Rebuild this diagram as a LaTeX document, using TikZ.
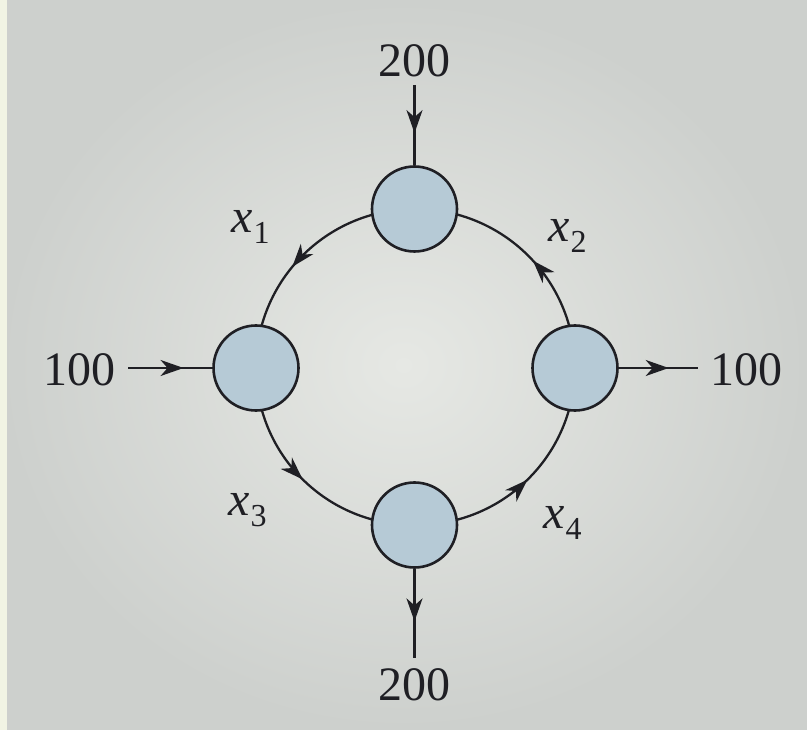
\documentclass[tikz,border=0pt]{standalone}
\usepackage{fontspec}
\setmainfont{Liberation Serif}
\usetikzlibrary{arrows.meta,decorations.markings}
\definecolor{pagegray}{HTML}{E6E8E4}
\definecolor{pageedge}{HTML}{CDD0CD}
\definecolor{stripgreen}{HTML}{F1F4E4}
\definecolor{nodefill}{HTML}{B6CAD6}
\definecolor{ink}{HTML}{1F1F24}
\pgfdeclarelayer{bg}
\pgfdeclarelayer{edges}
\pgfsetlayers{bg,edges,main}
\tikzset{
  junction/.style={circle, draw=ink, fill=nodefill, line width=2.6pt, minimum size=85pt, inner sep=0pt},
  flow/.style={draw=ink, line width=2.3pt},
  tipat/.style={postaction={decorate}, decoration={markings, mark=at position #1 with {\arrow{Stealth[length=23pt,width=16pt,inset=7pt]}}}},
  bigtext/.style={font=\fontsize{48}{56}\selectfont, text=ink, inner sep=0pt},
}
\newcommand{\xsub}[1]{\textit{x}\kern1pt\raisebox{-11pt}{\fontsize{32}{32}\selectfont #1}}
\begin{document}
\begin{tikzpicture}[x=1pt,y=1pt]
\useasboundingbox (0,0) rectangle (807,-730);
\begin{pgfonlayer}{bg}
  \shade[inner color=pagegray, outer color=pageedge] (0,0) rectangle (807,-730);
  \fill[stripgreen] (0,0) rectangle (7,-730);
\end{pgfonlayer}
% junction nodes
\node[junction] (top) at (414.5,-209) {};
\node[junction] (left) at (256,-368) {};
\node[junction] (right) at (575,-368) {};
\node[junction] (bot) at (414.5,-525) {};
% free ends
\coordinate (topin) at (414.5,-85);
\coordinate (leftin) at (128,-368);
\coordinate (rightout) at (698,-368);
\coordinate (botout) at (414.5,-658);
% straight flows
\draw[flow, tipat=0.60] (topin) -- (top);
\draw[flow, tipat=0.66] (leftin) -- (left);
\draw[flow, tipat=0.63] (right) -- (rightout);
\draw[flow, tipat=0.59] (bot) -- (botout);
% arcs
\begin{pgfonlayer}{edges}
  \draw[flow, tipat=0.56] (top.center) to[bend right=45] (left.center);
  \draw[flow, tipat=0.47] (right.center) to[bend right=45] (top.center);
  \draw[flow, tipat=0.50] (left.center) to[bend right=45] (bot.center);
  \draw[flow, tipat=0.50] (bot.center) to[bend right=45] (right.center);
\end{pgfonlayer}
% labels
\node[bigtext, anchor=base] (l200t) at (414.5,-77) {200};
\node[bigtext, anchor=base] (l200b) at (414.5,-700) {200};
\node[bigtext, anchor=base] (l100l) at (79,-386) {100};
\node[bigtext, anchor=base] (l100r) at (746,-386) {100};
\node[bigtext, anchor=base west] (lx1) at (231,-233) {\xsub{1}};
\node[bigtext, anchor=base west] (lx2) at (548,-242) {\xsub{2}};
\node[bigtext, anchor=base west] (lx3) at (228,-515) {\xsub{3}};
\node[bigtext, anchor=base west] (lx4) at (543,-528) {\xsub{4}};
\end{tikzpicture}
\end{document}
